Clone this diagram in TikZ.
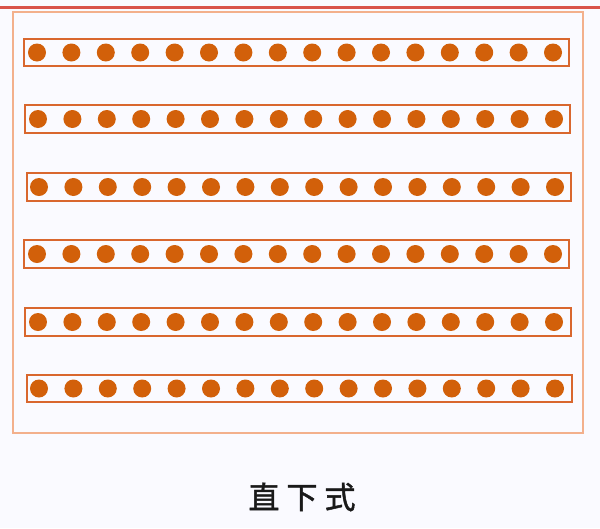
\documentclass[tikz,border=0pt]{standalone}
\usepackage{fontspec}
\newfontfamily\cjk[FakeBold=1.5]{Noto Sans CJK SC}
\definecolor{dotc}{HTML}{D2600A}
\definecolor{stripc}{HTML}{D9672E}
\definecolor{outerc}{HTML}{F3B08C}
\definecolor{topc}{HTML}{D9534A}
\tikzset{
  stripbox/.style={draw=stripc, line width=2pt},
  led/.style={circle, fill=dotc, inner sep=0pt, minimum size=18pt},
  outerbox/.style={draw=outerc, line width=2.6pt},
}
\begin{document}
\begin{tikzpicture}[x=1pt,y=-1pt]
\useasboundingbox (0,0) rectangle (600,528);
\fill[white!98!blue] (0,0) rectangle (600,528);
\draw[topc, line width=3pt] (0,7) -- (600,7);
\draw[outerbox] (13,12) rectangle (583,433);
\foreach \i/\ya/\yb/\xa/\xb/\da/\db in {1/39/66/24/569/37/553, 2/105/133/25/570/38/554, 3/173/201/27/571/39/555, 4/240/268/24/569/37/553, 5/308/336/25/571/38/554, 6/375/402/27/572/39/555}{
  \draw[stripbox] (\xa,\ya) rectangle (\xb,\yb);
  \foreach \k in {0,...,15}{
    \node[led] (d\i-\k) at ({\da+\k*(\db-\da)/15},{(\ya+\yb)/2}) {};
  }
}
\node[font=\cjk\fontsize{31}{34}\selectfont, text=black!90] (label) at (302,497) {直\hspace{7pt}下\hspace{7pt}式};
\end{tikzpicture}
\end{document}
